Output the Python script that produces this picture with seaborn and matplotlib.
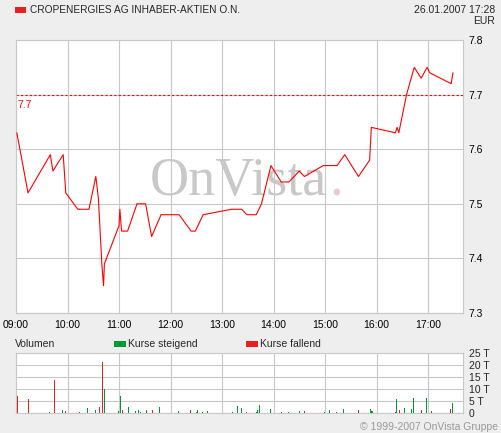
import pandas as pd
import numpy as np
import matplotlib
matplotlib.use('Agg')
import matplotlib.pyplot as plt
import seaborn as sns
from matplotlib.patches import Rectangle

# Kursdaten (Uhrzeit, Kurs in EUR)
price_times = ["09:01", "09:14", "09:40", "09:43", "09:55", "09:58", "10:12", "10:25",
               "10:33", "10:36", "10:40", "10:42", "10:43", "11:00", "11:01", "11:03",
               "11:10", "11:21", "11:31", "11:38", "11:49", "12:10", "12:24", "12:29",
               "12:38", "13:11", "13:23", "13:29", "13:40", "13:46", "13:57", "14:09",
               "14:18", "14:30", "14:36", "14:58", "15:14", "15:23", "15:39", "15:52",
               "15:54", "16:22", "16:24", "16:26", "16:35", "16:44", "16:52", "16:59",
               "17:02", "17:27", "17:29"]
price_values = [7.63, 7.52, 7.59, 7.56, 7.59, 7.52, 7.49, 7.49,
                7.55, 7.51, 7.39, 7.35, 7.39, 7.46, 7.49, 7.45,
                7.45, 7.50, 7.50, 7.44, 7.48, 7.48, 7.45, 7.45,
                7.48, 7.49, 7.49, 7.48, 7.48, 7.50, 7.57, 7.54,
                7.54, 7.56, 7.55, 7.57, 7.57, 7.59, 7.55, 7.58,
                7.64, 7.63, 7.64, 7.63, 7.70, 7.75, 7.73, 7.75,
                7.74, 7.72, 7.74]

# Umsatzdaten (Uhrzeit, Volumen in Tausend, Richtung)
vol_times = ["09:01", "09:14", "09:39", "09:44", "09:54", "09:57", "10:13", "10:23",
             "10:32", "10:37", "10:40", "10:42", "10:43", "10:59", "11:01", "11:03",
             "11:10", "11:19", "11:22", "11:24", "11:31", "11:38", "11:47", "12:09",
             "12:23", "12:30", "12:31", "12:37", "12:43", "13:12", "13:17", "13:22",
             "13:28", "13:40", "13:41", "13:43", "13:56", "14:09", "14:17", "14:30",
             "14:36", "14:59", "15:05", "15:13", "15:21", "15:38", "15:52", "15:53",
             "15:54", "15:55", "16:21", "16:23", "16:26", "16:32", "16:40", "16:43",
             "16:52", "16:58", "17:03", "17:26", "17:28"]
vol_values = [7.2, 5.8, 0.6, 13.9, 1.4, 1.0, 0.6, 2.2,
              1.4, 2.6, 21.4, 6.4, 10.1, 1.0, 7.2, 1.4,
              2.6, 1.0, 1.4, 0.6, 1.4, 1.4, 2.6, 1.0,
              1.4, 0.6, 1.4, 0.6, 1.0, 0.6, 3.0, 2.2,
              0.6, 0.6, 1.4, 3.5, 1.8, 0.6, 0.6, 1.0,
              1.0, 0.6, 1.4, 0.6, 1.8, 1.4, 1.8, 1.4,
              1.0, 1.0, 0.6, 6.0, 1.4, 2.2, 1.8, 6.4,
              1.4, 6.4, 1.0, 1.8, 4.3]
vol_dir = ["f", "f", "s", "f", "s", "f", "f", "s",
           "s", "f", "f", "f", "s", "s", "s", "f",
           "s", "s", "s", "s", "s", "f", "s", "s",
           "f", "s", "s", "s", "s", "s", "s", "s",
           "f", "s", "s", "s", "s", "f", "s", "s",
           "f", "s", "s", "s", "s", "f", "s", "s",
           "s", "s", "f", "s", "f", "s", "s", "s",
           "f", "s", "f", "f", "s"]

hour_labels = ["09:00", "10:00", "11:00", "12:00", "13:00", "14:00", "15:00", "16:00", "17:00"]
price_ticks = [7.3, 7.4, 7.5, 7.6, 7.7, 7.8]
vol_ticks = [0, 5, 10, 15, 20, 25]
vol_tick_labels = ["0", "5 T", "10 T", "15 T", "20 T", "25 T"]


def minutes(t):
    h, m = t.split(":")
    return (int(h) - 9) * 60 + int(m)


price = pd.DataFrame({"min": [minutes(t) for t in price_times], "kurs": price_values})
vol = pd.DataFrame({"min": [minutes(t) for t in vol_times], "vol": vol_values, "dir": vol_dir})

RED = "#ff0000"
VRED = "#e82020"
GREEN = "#009933"
BG = "#eeeeee"
GRID = "#c8c8c8"

sns.set_style("white")
plt.rcParams['font.family'] = ['Liberation Sans', 'DejaVu Sans']

W, H = 501, 433
fig = plt.figure(figsize=(W / 100, H / 100), dpi=100, facecolor=BG)


def fx(x):
    return x / W


def fy(y):
    return 1 - y / H


ax = fig.add_axes([fx(16), fy(313), fx(463) - fx(16), fy(40) - fy(313)])
axv = fig.add_axes([fx(16), fy(413), fx(463) - fx(16), fy(353) - fy(413)])

xmax = (463 - 16) * 60 / 51.5
hour_pos = [i * 60 for i in range(len(hour_labels))]

# Kurslinie
ax.set_facecolor("white")
sns.lineplot(data=price, x="min", y="kurs", ax=ax, color=RED, linewidth=0.8, zorder=3)
ax.axhline(7.7, color=RED, linestyle=(0, (2, 2)), linewidth=0.8, zorder=2)
ax.text(2, 7.69, "7.7", color=RED, fontsize=7.5, ha="left", va="top")

# Wasserzeichen
ax.text(fx(150), fy(195), "OnVista", family="Liberation Serif", fontsize=39,
        color="#c8c8c8", ha="left", va="baseline", transform=fig.transFigure, zorder=0.3)
ax.text(fx(329), fy(195), ".", family="Liberation Serif", fontsize=39,
        color="#f0c8cc", ha="left", va="baseline", transform=fig.transFigure, zorder=0.3)

ax.set_xlim(0, xmax)
ax.set_ylim(7.3, 7.8)
ax.set_xticks(hour_pos)
ax.set_xticklabels(hour_labels)
ax.set_yticks(price_ticks)
ax.set_yticklabels([f"{v:.1f}" for v in price_ticks])
ax.yaxis.tick_right()
ax.tick_params(length=0, labelsize=7.5, colors="#000000", pad=4)
ax.tick_params(axis="x", pad=5)
ax.grid(True, color=GRID, linewidth=0.8, zorder=1)
ax.set_xlabel("")
ax.set_ylabel("")
for s in ax.spines.values():
    s.set_color(GRID)
    s.set_linewidth(0.8)

# Volumen (1-Pixel-Balken)
colors = vol["dir"].map({"s": GREEN, "f": VRED})
axv.vlines(vol["min"], 0, vol["vol"], colors=colors, linewidth=0.55,
           antialiased=False, zorder=3)
axv.set_facecolor("white")
axv.set_xlim(0, xmax)
axv.set_ylim(0, 25)
axv.set_xticks(hour_pos)
axv.set_xticklabels([])
axv.set_yticks(vol_ticks)
axv.set_yticklabels(vol_tick_labels)
axv.yaxis.tick_right()
axv.tick_params(length=0, labelsize=7.5, pad=4)
axv.grid(True, color=GRID, linewidth=0.8)
axv.set_axisbelow(True)
for s in axv.spines.values():
    s.set_color(GRID)
    s.set_linewidth(0.8)

# Kopfzeile
fig.patches.append(Rectangle((fx(15), fy(13)), fx(11), 6 / H, transform=fig.transFigure,
                             facecolor=VRED, edgecolor="none"))
fig.text(fx(30), fy(10), "CROPENERGIES AG INHABER-AKTIEN O.N.", fontsize=7.3, va="center", ha="left")
fig.text(fx(495), fy(10), "26.01.2007 17:28", fontsize=7.5, va="center", ha="right")
fig.text(fx(495), fy(21), "EUR", fontsize=7.5, va="center", ha="right")

# Volumen-Legende
fig.text(fx(15), fy(344), "Volumen", fontsize=7.5, va="center", ha="left")
fig.patches.append(Rectangle((fx(114), fy(347)), fx(12), 6 / H, transform=fig.transFigure,
                             facecolor=GREEN, edgecolor="none"))
fig.text(fx(128), fy(344), "Kurse steigend", fontsize=7.5, va="center", ha="left")
fig.patches.append(Rectangle((fx(246), fy(347)), fx(12), 6 / H, transform=fig.transFigure,
                             facecolor=VRED, edgecolor="none"))
fig.text(fx(260), fy(344), "Kurse fallend", fontsize=7.5, va="center", ha="left")

fig.text(fx(498), fy(427), "\u00a9 1999-2007 OnVista Gruppe", fontsize=7.5, color="#999999",
         va="center", ha="right")

fig.savefig("out.png", dpi=100, facecolor=BG)
